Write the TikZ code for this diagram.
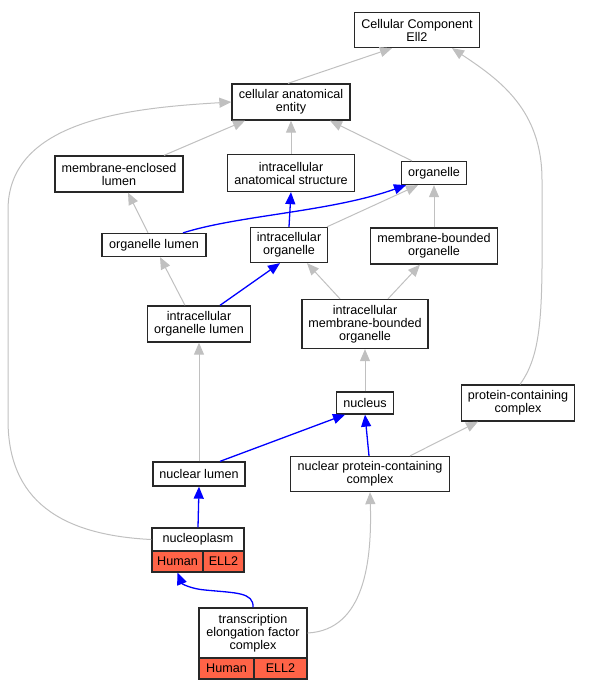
\documentclass[tikz,border=0pt]{standalone}
\usepackage{fontspec}
\setmainfont{Liberation Sans}
\usetikzlibrary{arrows.meta}
\definecolor{edgegray}{RGB}{192,192,192}
\definecolor{boxline}{RGB}{40,40,40}
\definecolor{tomatofill}{RGB}{255,99,71}
\begin{document}
\begin{tikzpicture}[x=1pt,y=-1pt,
  box/.style={draw=boxline,line width=1.3pt,fill=white,inner sep=0pt,align=center,
    font=\fontsize{12.6}{13}\selectfont},
  cell/.style={box,fill=tomatofill},
  gedge/.style={draw=edgegray,line width=1pt,-{Triangle[length=12pt,width=10pt]}},
  bedge/.style={draw=blue,line width=1.3pt,-{Triangle[length=12pt,width=10pt]}}]
\useasboundingbox (0,0) rectangle (591,691);
% nodes
\node[box,minimum width=125pt,minimum height=35pt] (cc) at (417,30) {Cellular Component\\Ell2};
\node[box,minimum width=118pt,minimum height=36pt] (cae) at (291,102) {cellular anatomical\\entity};
\node[box,minimum width=128pt,minimum height=36pt] (mel) at (119,174) {membrane-enclosed\\lumen};
\node[box,minimum width=127pt,minimum height=37pt] (ias) at (291,173) {intracellular\\anatomical structure};
\node[box,minimum width=65pt,minimum height=23pt] (org) at (434,173) {organelle};
\node[box,minimum width=104pt,minimum height=23pt] (ol) at (154,245) {organelle lumen};
\node[box,minimum width=77pt,minimum height=35pt] (io) at (289,245) {intracellular\\organelle};
\node[box,minimum width=127pt,minimum height=36pt] (mbo) at (434,246) {membrane-bounded\\organelle};
\node[box,minimum width=103pt,minimum height=36pt] (iol) at (199,324) {intracellular\\organelle lumen};
\node[box,minimum width=126pt,minimum height=49pt] (imbo) at (365,324) {intracellular\\membrane-bounded\\organelle};
\node[box,minimum width=57pt,minimum height=22pt] (nuc) at (365,403) {nucleus};
\node[box,minimum width=113pt,minimum height=36pt] (pcc) at (518,403) {protein-containing\\complex};
\node[box,minimum width=92pt,minimum height=24pt] (nl) at (199,474) {nuclear lumen};
\node[box,minimum width=159pt,minimum height=35pt] (npcc) at (370,474) {nuclear protein-containing\\complex};
% nucleoplasm record
\node[box,minimum width=92pt,minimum height=23pt] (np) at (198,539.5) {nucleoplasm};
\node[cell,minimum width=51pt,minimum height=21pt] (nph) at (177.5,561.5) {Human};
\node[cell,minimum width=41pt,minimum height=21pt] (npe) at (223.5,561.5) {ELL2};
% transcription elongation factor complex record
\node[box,minimum width=108pt,minimum height=50pt] (tefc) at (253,633) {transcription\\elongation factor\\complex};
\node[cell,minimum width=55pt,minimum height=21pt] (tefh) at (226.5,668.5) {Human};
\node[cell,minimum width=53pt,minimum height=21pt] (tefe) at (280.5,668.5) {ELL2};
% gray edges
\draw[gedge] ([xshift=-3pt]cae.north) -- ([xshift=-25pt]cc.south);
\draw[gedge] ([xshift=2pt]pcc.north) .. controls (545,350) and (542,300) .. (542,180) .. controls (542,110) and (500,80) .. ([xshift=35pt]cc.south);
\draw[gedge] ([xshift=45pt]mel.north) -- ([xshift=-46pt]cae.south);
\draw[gedge] (ias.north) -- (cae.south);
\draw[gedge] ([xshift=-22pt]org.north) -- ([xshift=39pt]cae.south);
\draw[gedge] (np.west) .. controls (60,535) and (8,500) .. (8,420) -- (8,210) .. controls (8,120) and (130,108) .. (cae.west);
\draw[gedge] ([xshift=-6pt]ol.north) -- ([xshift=9pt]mel.south);
\draw[gedge] ([xshift=38pt]io.north) -- ([xshift=-16pt]org.south);
\draw[gedge] (mbo.north) -- (org.south);
\draw[gedge] ([xshift=-14pt]iol.north) -- ([xshift=6pt]ol.south);
\draw[gedge] ([xshift=-25pt]imbo.north) -- ([xshift=18pt]io.south);
\draw[gedge] ([xshift=23pt]imbo.north) -- ([xshift=-14pt]mbo.south);
\draw[gedge] (nl.north) -- (iol.south);
\draw[gedge] (nuc.north) -- (imbo.south);
\draw[gedge] ([xshift=40pt]npcc.north) -- ([xshift=-40pt]pcc.south);
\draw[gedge] (tefc.east) .. controls (365,630) and (372,560) .. (npcc.south);
% blue edges
\draw[bedge] ([xshift=29pt]ol.north) .. controls (240,215) and (330,212) .. ([xshift=-28pt]org.south);
\draw[bedge] (io.north) -- (ias.south);
\draw[bedge] ([xshift=21pt]iol.north) -- ([xshift=-9pt]io.south);
\draw[bedge] ([xshift=21pt]nl.north) -- ([xshift=-20pt]nuc.south);
\draw[bedge] ([xshift=-1pt]npcc.north) -- (nuc.south);
\draw[bedge] (np.north) -- (nl.south);
\draw[bedge] (tefc.north) .. controls (254,592) and (235,593) .. (205,590) .. controls (192,589) and (182,584) .. (nph.south);
\end{tikzpicture}
\end{document}
